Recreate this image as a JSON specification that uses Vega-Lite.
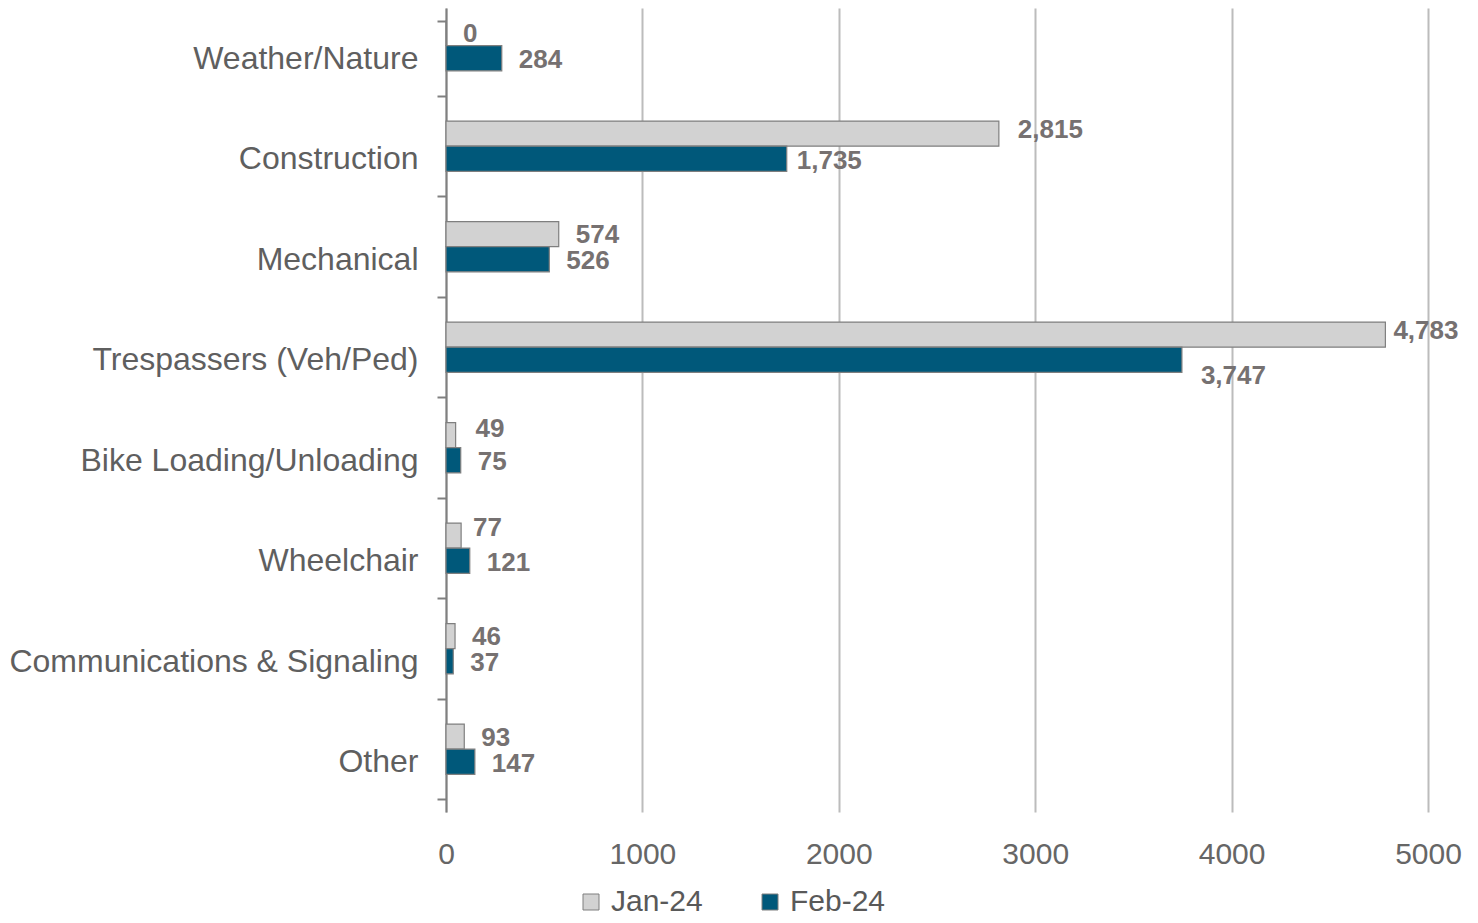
{
  "$schema": "https://vega.github.io/schema/vega-lite/v6.json",
  "width": 982,
  "height": 804,
  "autosize": "none",
  "padding": {"left": 446, "top": 8, "right": 50, "bottom": 111},
  "background": "white",
  "config": {"view": {"stroke": null}, "font": "Liberation Sans"},
  "data": {
    "values": [
      {"category": "Weather/Nature", "series": "Jan-24", "value": 0},
      {"category": "Weather/Nature", "series": "Feb-24", "value": 284},
      {"category": "Construction", "series": "Jan-24", "value": 2815},
      {"category": "Construction", "series": "Feb-24", "value": 1735},
      {"category": "Mechanical", "series": "Jan-24", "value": 574},
      {"category": "Mechanical", "series": "Feb-24", "value": 526},
      {"category": "Trespassers (Veh/Ped)", "series": "Jan-24", "value": 4783},
      {"category": "Trespassers (Veh/Ped)", "series": "Feb-24", "value": 3747},
      {"category": "Bike Loading/Unloading", "series": "Jan-24", "value": 49},
      {"category": "Bike Loading/Unloading", "series": "Feb-24", "value": 75},
      {"category": "Wheelchair", "series": "Jan-24", "value": 77},
      {"category": "Wheelchair", "series": "Feb-24", "value": 121},
      {"category": "Communications & Signaling", "series": "Jan-24", "value": 46},
      {"category": "Communications & Signaling", "series": "Feb-24", "value": 37},
      {"category": "Other", "series": "Jan-24", "value": 93},
      {"category": "Other", "series": "Feb-24", "value": 147}
    ]
  },
  "encoding": {
    "y": {
      "field": "category",
      "type": "nominal",
      "sort": null,
      "scale": {"paddingInner": 0.25, "paddingOuter": 0.125},
      "axis": {
        "title": null,
        "tickBand": "extent",
        "domainColor": "#808080",
        "domainWidth": 2,
        "tickColor": "#808080",
        "tickWidth": 2,
        "tickSize": 9,
        "labelPadding": 19,
        "labelFontSize": 32,
        "labelColor": "#5f5f5f",
        "labelLimit": 440
      }
    },
    "yOffset": {
      "field": "series",
      "type": "nominal",
      "scale": {"domain": ["Jan-24", "Feb-24", "_"], "paddingInner": 0, "paddingOuter": 0}
    },
    "x": {
      "field": "value",
      "type": "quantitative",
      "scale": {"domain": [0, 5000], "nice": false},
      "axis": {
        "title": null,
        "values": [0, 1000, 2000, 3000, 4000, 5000],
        "format": "d",
        "domain": false,
        "ticks": false,
        "grid": true,
        "gridColor": "#bcbcbc",
        "gridWidth": 2,
        "labelFontSize": 30,
        "labelColor": "#666666",
        "labelPadding": 27,
        "labelFlush": false
      }
    }
  },
  "layer": [
    {
      "mark": {"type": "bar", "stroke": "#7f7f7f", "strokeWidth": 1.2},
      "encoding": {
        "color": {
          "field": "series",
          "type": "nominal",
          "scale": {"domain": ["Jan-24", "Feb-24"], "range": ["#d2d2d2", "#00587a"]},
          "legend": {
            "title": null,
            "orient": "none",
            "direction": "horizontal",
            "legendX": 130,
            "legendY": 879,
            "symbolType": "square",
            "symbolSize": 256,
            "symbolStrokeColor": "#7f7f7f",
            "symbolStrokeWidth": 1,
            "labelFontSize": 30,
            "labelColor": "#595959",
            "labelOffset": 5,
            "columnPadding": 52
          }
        }
      }
    },
    {
      "transform": [{"filter": "datum.series == 'Jan-24' && indexof(['Construction', 'Trespassers (Veh/Ped)', 'Bike Loading/Unloading', 'Wheelchair'], datum.category) < 0"}],
      "mark": {"type": "text", "align": "left", "baseline": "middle", "dx": 17, "dy": 1, "fontSize": 26, "fontWeight": "bold", "fill": "#767171"},
      "encoding": {"text": {"field": "value", "type": "quantitative", "format": ",d"}}
    },
    {
      "transform": [{"filter": "datum.series == 'Jan-24' && datum.category == 'Bike Loading/Unloading'"}],
      "mark": {"type": "text", "align": "left", "baseline": "middle", "dx": 20, "dy": -6, "fontSize": 26, "fontWeight": "bold", "fill": "#767171"},
      "encoding": {"text": {"field": "value", "type": "quantitative", "format": ",d"}}
    },
    {
      "transform": [{"filter": "datum.series == 'Jan-24' && datum.category == 'Wheelchair'"}],
      "mark": {"type": "text", "align": "left", "baseline": "middle", "dx": 12, "dy": -8, "fontSize": 26, "fontWeight": "bold", "fill": "#767171"},
      "encoding": {"text": {"field": "value", "type": "quantitative", "format": ",d"}}
    },
    {
      "transform": [{"filter": "datum.series == 'Jan-24' && datum.category == 'Construction'"}],
      "mark": {"type": "text", "align": "left", "baseline": "middle", "dx": 19, "dy": -4, "fontSize": 26, "fontWeight": "bold", "fill": "#767171"},
      "encoding": {"text": {"field": "value", "type": "quantitative", "format": ",d"}}
    },
    {
      "transform": [{"filter": "datum.series == 'Feb-24' && indexof(['Construction', 'Trespassers (Veh/Ped)'], datum.category) < 0"}],
      "mark": {"type": "text", "align": "left", "baseline": "middle", "dx": 17, "dy": 2, "fontSize": 26, "fontWeight": "bold", "fill": "#767171"},
      "encoding": {"text": {"field": "value", "type": "quantitative", "format": ",d"}}
    },
    {
      "transform": [{"filter": "datum.category == 'Construction' && datum.series == 'Feb-24'"}],
      "mark": {"type": "text", "align": "left", "baseline": "middle", "dx": 10, "dy": 2, "fontSize": 26, "fontWeight": "bold", "fill": "#767171"},
      "encoding": {"text": {"field": "value", "type": "quantitative", "format": ",d"}}
    },
    {
      "transform": [{"filter": "datum.category == 'Trespassers (Veh/Ped)' && datum.series == 'Jan-24'"}],
      "mark": {"type": "text", "align": "left", "baseline": "middle", "dx": 8, "dy": -4, "fontSize": 26, "fontWeight": "bold", "fill": "#767171"},
      "encoding": {"text": {"field": "value", "type": "quantitative", "format": ",d"}}
    },
    {
      "transform": [{"filter": "datum.category == 'Trespassers (Veh/Ped)' && datum.series == 'Feb-24'"}],
      "mark": {"type": "text", "align": "left", "baseline": "middle", "dx": 19, "dy": 16, "fontSize": 26, "fontWeight": "bold", "fill": "#767171"},
      "encoding": {"text": {"field": "value", "type": "quantitative", "format": ",d"}}
    }
  ]
}
